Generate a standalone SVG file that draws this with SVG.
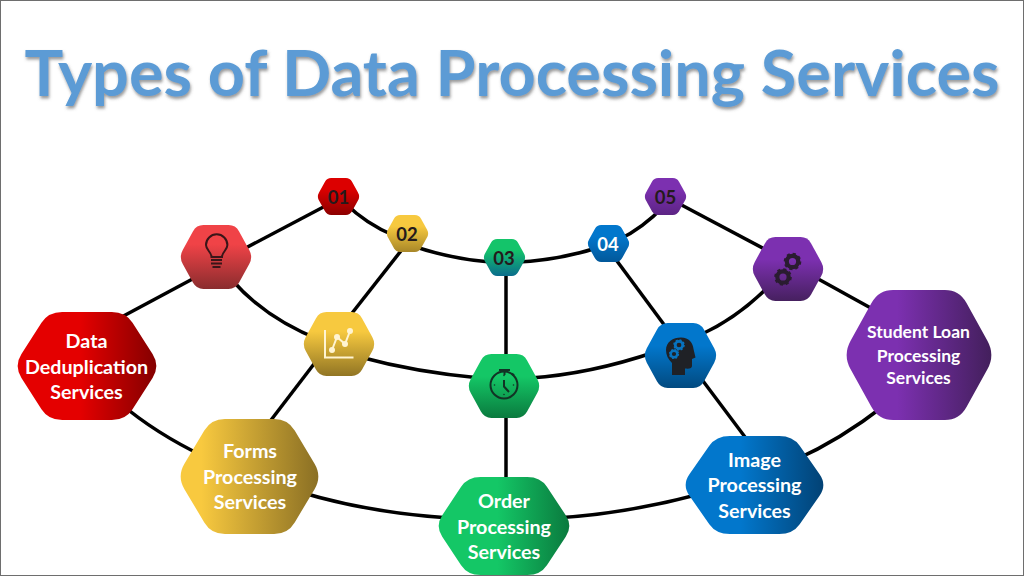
<svg xmlns="http://www.w3.org/2000/svg" width="1024" height="576" viewBox="0 0 1024 576">
<style>
text{font-family:Lato,"Open Sans","Liberation Sans",sans-serif;font-weight:700;text-anchor:middle}
.title{font-size:64px;fill:#5b9bd5;filter:url(#ts)}
.lab{fill:#fff;font-size:19.700px}
.lab2{fill:#fff;font-size:17.5px}
.num{font-size:18.500px;fill:#241a1c}
.c{fill:none;stroke:#000;stroke-width:3.500}
.ic{fill:none;stroke:#2a1a1c;stroke-width:2}
</style>
<defs>
<filter id="ts" x="-5%" y="-20%" width="110%" height="140%"><feDropShadow dx="1" dy="2.5" stdDeviation="1.5" flood-color="#555" flood-opacity=".6"/></filter>
<path id="hex" d="M32,0L68,0Q78,0 83,10L97.500,39Q103,50 97.500,61L83,90Q78,100 68,100L32,100Q22,100 17,90L2.500,61Q-3,50 2.500,39L17,10Q22,0 32,0Z"/>
<linearGradient id="hR"><stop offset=".45" stop-color="#e40000"/><stop offset="1" stop-color="#840000"/></linearGradient>
<linearGradient id="hY"><stop offset=".15" stop-color="#f8c93f"/><stop offset="1" stop-color="#8a6f24"/></linearGradient>
<linearGradient id="hG"><stop offset=".45" stop-color="#14c766"/><stop offset="1" stop-color="#0a7a3e"/></linearGradient>
<linearGradient id="hB"><stop offset=".4" stop-color="#0277cc"/><stop offset="1" stop-color="#024275"/></linearGradient>
<linearGradient id="hP"><stop offset=".35" stop-color="#7c30b0"/><stop offset="1" stop-color="#431f5c"/></linearGradient>
<linearGradient id="vR" x2="0" y2="1"><stop offset=".3" stop-color="#f04347"/><stop offset="1" stop-color="#8a2c2e"/></linearGradient>
<linearGradient id="vY" x2="0" y2="1"><stop offset=".3" stop-color="#f7c93f"/><stop offset="1" stop-color="#917524"/></linearGradient>
<linearGradient id="vG" x2="0" y2="1"><stop offset=".35" stop-color="#14c766"/><stop offset="1" stop-color="#0a7a3e"/></linearGradient>
<linearGradient id="vB" x2="0" y2="1"><stop offset=".35" stop-color="#0277cc"/><stop offset="1" stop-color="#024a80"/></linearGradient>
<linearGradient id="vP" x2="0" y2="1"><stop offset=".35" stop-color="#7c30b0"/><stop offset="1" stop-color="#46205f"/></linearGradient>
<linearGradient id="n1" x2="0" y2="1"><stop offset=".3" stop-color="#dc0000"/><stop offset="1" stop-color="#8c0000"/></linearGradient>
<linearGradient id="n2" x2="0" y2="1"><stop offset=".3" stop-color="#f7c93f"/><stop offset="1" stop-color="#a88728"/></linearGradient>
<linearGradient id="n3" x2="0" y2="1"><stop offset=".3" stop-color="#14c46a"/><stop offset="1" stop-color="#0a6c8c"/></linearGradient>
<linearGradient id="n4" x2="0" y2="1"><stop offset=".3" stop-color="#0277cc"/><stop offset="1" stop-color="#02589a"/></linearGradient>
<linearGradient id="n5" x2="0" y2="1"><stop offset=".3" stop-color="#7c30b0"/><stop offset="1" stop-color="#5c2484"/></linearGradient>
<g id="gear"><circle r="6" fill="none" stroke="currentColor" stroke-width="4.400"/><circle r="8" fill="none" stroke="currentColor" stroke-width="2.600" stroke-dasharray="3.2 3.08"/></g>
</defs>
<rect width="1024" height="576" fill="#fff"/>
<rect x=".5" y=".5" width="1023" height="575" fill="none" stroke="#6e6e6e"/>
<text id="title" class="title" x="512" y="96" textLength="975" lengthAdjust="spacingAndGlyphs">Types of Data Processing Services</text>
<g id="connectors">
<path class="c" d="M345,203Q366,224 395,236"/>
<path class="c" d="M410,245Q450,259 490,262"/>
<path class="c" d="M518,262Q560,260 600,247"/>
<path class="c" d="M618,240Q642,229 665,205"/>
<path class="c" d="M232,280Q265,318 320,340"/>
<path class="c" d="M360,357Q415,372 480,378"/>
<path class="c" d="M530,378Q590,374 655,352"/>
<path class="c" d="M700,335Q740,317 775,280"/>
<path class="c" d="M120,403Q155,433 205,457"/>
<path class="c" d="M300,492Q370,513 450,518"/>
<path class="c" d="M555,518Q625,514 700,494"/>
<path class="c" d="M795,460Q840,440 885,405"/>
<path class="c" d="M331,203L240,251"/>
<path class="c" d="M200,275L116,320"/>
<path class="c" d="M404,247L349,317"/>
<path class="c" d="M317,360L268,424"/>
<path class="c" d="M506,270V360"/>
<path class="c" d="M506,410V485"/>
<path class="c" d="M614,257L668,330"/>
<path class="c" d="M700,377L748,441"/>
<path class="c" d="M674,201L772,253"/>
<path class="c" d="M811,275L878,312"/>
</g>
<g id="node-data"><use href="#hex" fill="url(#hR)" transform="translate(18,312) scale(1.38,1.08)"/><text class="lab" x="86.500" y="348">Data</text><text class="lab" x="86.500" y="373.500">Deduplication</text><text class="lab" x="86.500" y="399">Services</text></g>
<g id="node-forms"><use href="#hex" fill="url(#hY)" transform="translate(181,419) scale(1.37,1.15)"/><text class="lab" x="250" y="458">Forms</text><text class="lab" x="250" y="484">Processing</text><text class="lab" x="250" y="509">Services</text></g>
<g id="node-order"><use href="#hex" fill="url(#hG)" transform="translate(439,477) scale(1.30,.98)"/><text class="lab" x="504" y="508">Order</text><text class="lab" x="504" y="534">Processing</text><text class="lab" x="504" y="559">Services</text></g>
<g id="node-image"><use href="#hex" fill="url(#hB)" transform="translate(686,436) scale(1.37,.98)"/><text class="lab" x="754.500" y="467">Image</text><text class="lab" x="754.500" y="492">Processing</text><text class="lab" x="754.500" y="518">Services</text></g>
<g id="node-student"><use href="#hex" fill="url(#hP)" transform="translate(847,290) scale(1.44,1.30)"/><text class="lab2" x="918.500" y="338">Student Loan</text><text class="lab2" x="918.500" y="362">Processing</text><text class="lab2" x="918.500" y="384">Services</text></g>
<g id="icon-bulb"><use href="#hex" fill="url(#vR)" transform="translate(181,225) scale(.70,.64)"/>
<path class="ic" style="stroke:#3a1518" d="M211.500,257C211.500,252 206,250 206,245A10.700,10.700 0 1 1 227.400,245C227.400,250 222,252 222,257Z"/>
<path class="ic" style="stroke:#3a1518" d="M211,260H222M211,263.500H222M212.500,267H220.500"/></g>
<g id="icon-chart"><use href="#hex" fill="url(#vY)" transform="translate(304,312) scale(.70,.64)"/>
<path fill="none" stroke="#fff4d2" stroke-width="2" d="M325,330V357.500H353.500M332,350L337,337L345,344L350,331"/>
<g fill="#fff4d2"><circle cx="332" cy="350" r="3"/><circle cx="337" cy="337" r="3"/><circle cx="345" cy="344" r="3"/><circle cx="350" cy="331" r="3"/></g></g>
<g id="icon-timer"><use href="#hex" fill="url(#vG)" transform="translate(469,354) scale(.70,.64)"/>
<path class="ic" style="stroke:#123325" d="M499,370H510M504.500,370V375M512,373.500L514,375.500M504,380V386.500L509,392"/>
<circle class="ic" style="stroke:#123325" cx="504" cy="385" r="13.500"/>
<g fill="#123325"><circle cx="504" cy="375.500" r=".8"/><circle cx="494.500" cy="385" r=".8"/><circle cx="513.500" cy="385" r=".8"/><circle cx="504" cy="394.500" r=".8"/></g></g>
<g id="icon-head"><use href="#hex" fill="url(#vB)" transform="translate(645,323) scale(.71,.65)"/>
<path fill="#1f2126" d="M672,375V363C668,359 666,355 666,350C666,342 673,337.500 681,337.500C689,337.500 693,343 693.500,349L695.500,357.500L692,359V366C692,368 690,369 685,368.500V375Z"/>
<use href="#gear" color="#0873bf" transform="translate(679,345) scale(.62)"/><use href="#gear" color="#0873bf" transform="translate(674,354) scale(.55)"/></g>
<g id="icon-gears"><use href="#hex" fill="url(#vP)" transform="translate(753,237) scale(.70,.64)"/>
<use href="#gear" color="#2a1c30" transform="translate(792.500,261.500) scale(.95)"/><use href="#gear" color="#2a1c30" transform="translate(783,277) scale(.95)"/></g>
<g id="step-01"><use href="#hex" fill="url(#n1)" transform="translate(318,178) scale(.41,.37)"/><text class="num" x="338.500" y="203.500">01</text></g>
<g id="step-02"><use href="#hex" fill="url(#n2)" transform="translate(387,215) scale(.41,.37)"/><text class="num" x="407" y="240.500">02</text></g>
<g id="step-03"><use href="#hex" fill="url(#n3)" transform="translate(484,239) scale(.41,.37)"/><text class="num" x="504" y="264.500">03</text></g>
<g id="step-04"><use href="#hex" fill="url(#n4)" transform="translate(588,225) scale(.41,.37)"/><text class="num" style="fill:#fff" x="608" y="250.500">04</text></g>
<g id="step-05"><use href="#hex" fill="url(#n5)" transform="translate(645,178) scale(.41,.37)"/><text class="num" x="665.500" y="203.500">05</text></g>
</svg>
